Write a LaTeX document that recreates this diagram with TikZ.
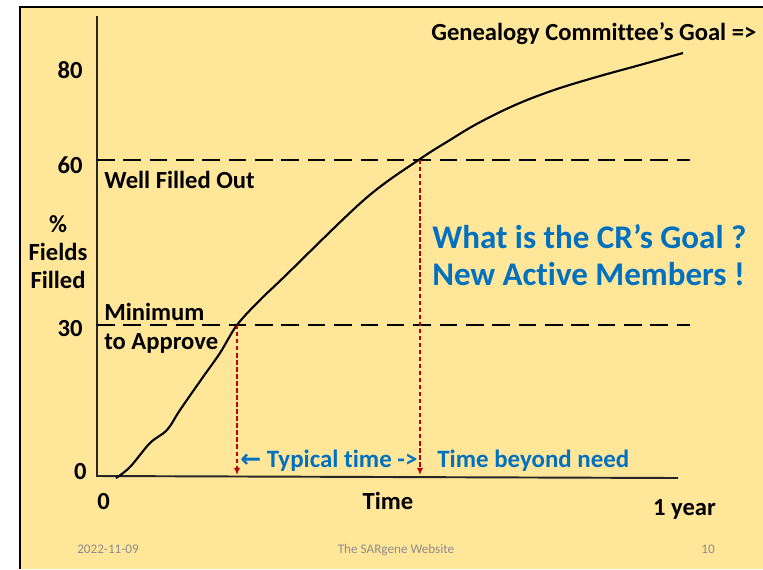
\documentclass[tikz,border=0pt]{standalone}
\usepackage{fontspec}
\setmainfont{Carlito}[Ligatures={NoCommon}]
\newfontfamily\arrowfont{DejaVu Sans}
\usepackage{xcolor}
\usepackage{tikz}
\usetikzlibrary{arrows.meta}
\usetikzlibrary{positioning}
\usetikzlibrary{calc}

\definecolor{slidebg}{HTML}{FFE699}
\definecolor{goalblue}{HTML}{0070C0}
\definecolor{markred}{HTML}{C00000}
\definecolor{footgrey}{HTML}{8C8C8C}

\begin{document}
\begin{tikzpicture}[x=0.02cm, y=-0.02cm, >=Latex,
    lbl/.style={font=\fontsize{14}{16.5}\selectfont\bfseries, inner sep=0pt},
    bluelbl/.style={font=\fontsize{14.2}{16}\selectfont\bfseries, text=goalblue, inner sep=0pt},
    goal/.style={font=\fontsize{18.8}{20}\selectfont\bfseries, text=goalblue, inner sep=0pt},
    foot/.style={font=\fontsize{7.5}{9}\selectfont, text=footgrey, inner sep=0pt},
    axis/.style={line width=1.1pt, draw=black!85},
    level/.style={line width=1.1pt, dash pattern=on 10pt off 5pt},
    drop/.style={line width=0.9pt, draw=markred, dash pattern=on 2.5pt off 1.5pt,
                 -{Latex[length=4pt,width=3.5pt]}}]

        \useasboundingbox (0,0) rectangle (763,569);
        \fill[slidebg] (20,7) rectangle (763,569);
        \draw[line width=1.2pt] (20,569) -- (20,7) -- (763,7);

        % axes and levels
        \coordinate (ytop)   at (97,16);
        \coordinate (origin) at (97,476);
        \coordinate (xend)   at (678,478);
        \coordinate (l60)    at (97,160);
        \coordinate (r60)    at (690,160);
        \coordinate (l30)    at (97,325);
        \coordinate (r30)    at (690,325);
        \coordinate (minhit)  at (237,325);
        \coordinate (wellhit) at (420,160);

        \draw[axis] (ytop) -- (origin) -- (xend);
        \draw[level] (l60) -- (r60);
        \draw[level] (l30) -- (r30);

        \draw[line width=1.2pt] plot[smooth, tension=0.55] coordinates {
          (116,478) (130,467) (150,443) (167,430) (180,410) (203,377) (220,353)
          (237,325) (260,300) (283,278) (365,199) (420,159) (450,140) (473,126)
          (500,112) (527,100) (560,88) (600,76) (640,65) (683,53)};

        \draw[drop] (minhit)  -- ($(minhit |- origin)+(0,-1)$);
        \draw[drop] (wellhit) -- ($(wellhit |- origin)+(0,-1)$);

        % labels
        \node[lbl, anchor=base east] (n80) at (83,78)  {80};
        \node[lbl, anchor=base east] (n60) at (83,173) {60};
        \node[lbl, anchor=base east] (n30) at (83,336) {30};
        \node[lbl, anchor=base east] (n0)  at (87,479) {0};
        \node[lbl, align=center, font=\fontsize{14}{16}\selectfont\bfseries]
                                     (pct) at (58,252) {\%\\Fields\\Filled};

        \node[lbl, anchor=base west] (well)  at (104,188) {Well Filled Out};
        \node[lbl, anchor=base west] (minim) at (104,320) {Minimum};
        \node[lbl, anchor=base west] (appr)  at ([yshift=-16.5pt]minim.base west) {to Approve};
        \node[lbl, anchor=base west] (comm)  at (431,40)  {Genealogy Committee’s Goal =>};

        \node[goal, anchor=base west] (crgoal)  at (432,248) {What is the CR’s Goal ?};
        \node[goal, anchor=base west] (members) at ([yshift=-21.5pt]crgoal.base west) {New Active Members !};

        \node[bluelbl, anchor=base west] (typical) at (240,467) {{\arrowfont ←} Typical time ->};
        \node[bluelbl, anchor=base west] (beyond)  at (437,467) {Time beyond need};

        \node[lbl, anchor=base] (t0)    at (103.5,509) {0};
        \node[lbl, anchor=base] (time)  at (388,509)   {Time};
        \node[lbl, anchor=base] (year)  at (684.5,515) {1 year};

        \node[foot, anchor=base] (date) at (108,553) {2022-11-09};
        \node[foot, anchor=base] (site) at (396,553) {The SARgene Website};
        \node[foot, anchor=base] (page) at (708,553) {10};

\end{tikzpicture}
\end{document}
